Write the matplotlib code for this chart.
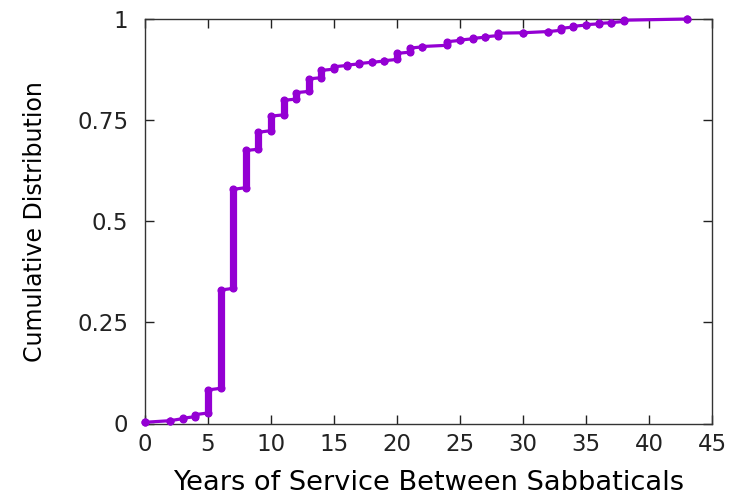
import matplotlib
matplotlib.use("Agg")
import matplotlib.pyplot as plt
import numpy as np

# Distinct years of service and the CDF value at the first / last observation of each year
years = [0, 2, 3, 4, 5, 6, 7, 8, 9, 10, 11, 12, 13, 14, 15, 16, 17, 18, 19,
         20, 21, 22, 24, 25, 26, 27, 28, 30, 32, 33, 34, 35, 36, 37, 38, 43]
cdf_lo = [0.003, 0.007, 0.012, 0.017, 0.026, 0.087, 0.334, 0.583, 0.678, 0.724,
          0.763, 0.802, 0.821, 0.855, 0.876, 0.885, 0.889, 0.893, 0.896, 0.900,
          0.918, 0.931, 0.935, 0.947, 0.951, 0.955, 0.959, 0.966, 0.969, 0.972,
          0.980, 0.985, 0.988, 0.991, 0.994, 1.000]
cdf_hi = [0.003, 0.007, 0.013, 0.022, 0.083, 0.330, 0.579, 0.675, 0.720, 0.760,
          0.799, 0.818, 0.852, 0.873, 0.882, 0.886, 0.890, 0.893, 0.897, 0.915,
          0.928, 0.932, 0.944, 0.948, 0.952, 0.956, 0.965, 0.966, 0.969, 0.977,
          0.982, 0.986, 0.989, 0.991, 0.997, 1.000]

xticks = [0, 5, 10, 15, 20, 25, 30, 35, 40, 45]
yticks = [0, 0.25, 0.5, 0.75, 1]
ytick_labels = ["0", "0.25", "0.5", "0.75", "1"]

color = "#9400d3"
W, H = 732, 501
fig = plt.figure(figsize=(W / 100, H / 100), dpi=100)
ax = fig.add_axes([145 / W, 1 - 423.5 / H, (712 - 145) / W, (423.5 - 19) / H])

# path through points: (x, lo) -> (x, hi) for each year
px, py = [], []
for x, lo, hi in zip(years, cdf_lo, cdf_hi):
    px += [x, x]
    py += [lo, hi]
ax.plot(px, py, color=color, lw=2.3, clip_on=False, zorder=3)
# dense stacks of points make the vertical runs thick
for x, lo, hi in zip(years, cdf_lo, cdf_hi):
    if hi - lo > 0.001:
        ax.plot([x, x], [lo, hi], color=color, lw=5.2, solid_capstyle="round",
                clip_on=False, zorder=3)
ax.plot(px, py, ls="none", marker="o", ms=4.8, color=color, clip_on=False, zorder=4)

ax.set_xlim(0, 45)
ax.set_ylim(0, 1)
ax.set_xticks(xticks)
ax.set_xticklabels([str(t) for t in xticks])
ax.set_yticks(yticks)
ax.set_yticklabels(ytick_labels)
ax.tick_params(direction="in", length=6.5, width=1, colors="#222222",
               top=True, right=True, labelsize=16.5)
ax.tick_params(axis="x", pad=7)
ax.tick_params(axis="y", pad=12)
for s in ax.spines.values():
    s.set_color("#333333")
    s.set_linewidth(1)

ax.set_xlabel("Years of Service Between Sabbaticals", fontsize=19.6, labelpad=10)
ax.set_ylabel("Cumulative Distribution", fontsize=17, labelpad=22)

fig.savefig("out.png", dpi=100)
